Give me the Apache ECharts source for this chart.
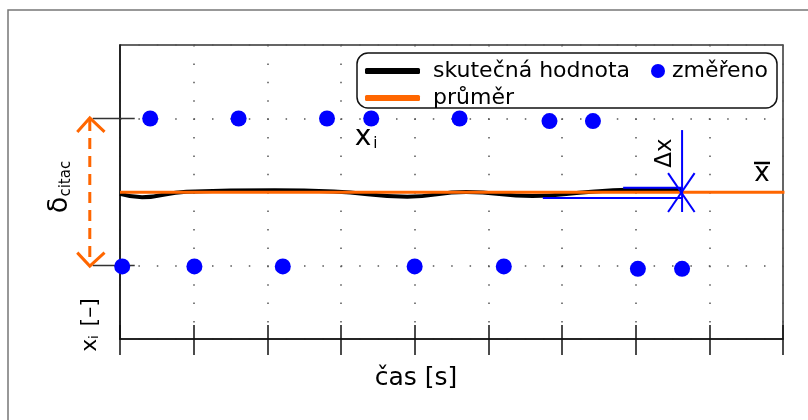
<!DOCTYPE html>
<html>
<head>
<meta charset="utf-8">
<script src="https://cdn.jsdelivr.net/npm/echarts@6/dist/echarts.min.js"></script>
<style>
	html, body { margin: 0; padding: 0; background: #fff; }
	#chart_1 { width: 808px; height: 420px; }
</style>
</head>
<body>
<div id="chart_1"></div>
<script>
// skutečná hodnota (true value)
var trueX = [0, 0.3, 0.9, 2.1, 2.9, 3.9, 4.7, 5.6, 6.4, 6.9, 7.63];
var trueY = [7.9, 7.72, 8.02, 8.1, 8.03, 7.74, 8.0, 7.78, 8.02, 8.12, 8.16];

// změřeno (measured points)
var measX = [0.41, 1.61, 2.81, 3.41, 4.61, 5.83, 6.42, 0.03, 1.01, 2.21, 4.0, 5.21, 7.03, 7.63];
var measY = [12, 12, 12, 12, 12, 11.86, 11.86, 3.95, 3.95, 3.95, 3.95, 3.95, 3.82, 3.82];

// průměr (mean)
var meanX = [0, 9.02];
var meanY = 7.98;

// Δx marker at the last sample
var deltaX = 7.63;
var deltaTop = 11.37, deltaBottom = 6.91;
var upperBarX = [6.83, 7.63], upperBarY = 8.23;
var lowerBarX = [5.74, 7.63], lowerBarY = 7.67;

// δ citac arrow (left of the y axis)
var arrowX = -0.41;
var arrowTop = 12.03, arrowBottom = 3.97;
var leaderX = [-0.37, 0.2];
var leaderY = [12, 4];

var legendLines = ['skutečná hodnota', 'průměr'];
var legendPoints = ['změřeno'];

echart_1();

function echart_1() {
	var font = 'DejaVu Sans';
	var myChart = echarts.init(document.getElementById('chart_1'));

	function pairs(xs, ys) {
		var res = [];
		for (var i = 0; i < xs.length; i++) {
			res.push([xs[i], ys[i]]);
		}
		return res;
	}

	// plain helper line (annotations inside the grid)
	function seg(data, color, width) {
		return {
			name: '',
			type: 'line',
			data: data,
			symbol: 'none',
			silent: true,
			clip: false,
			z: 6,
			lineStyle: { color: color, width: width }
		};
	}

	var dots = { type: [1.5, 16.9], color: '#555', width: 1.5 };
	var blue = '#0000ff', orange = '#ff6600';

	option = {
		backgroundColor: '#fff',
		animation: false,
		grid: {
			left: 120, top: 45, right: 25, bottom: 81,
			show: true, borderColor: '#333', borderWidth: 1.5
		},
		legend: [{
			left: 360, top: 55,
			orient: 'vertical',
			itemWidth: 55, itemHeight: 6, itemGap: 5,
			icon: 'roundRect',
			z: 60,
			data: legendLines,
			textStyle: { fontFamily: font, fontSize: 22, color: '#000', lineHeight: 22, padding: [0, 0, 0, 8] }
		}, {
			left: 646, top: 55,
			itemWidth: 14, itemHeight: 14,
			icon: 'circle',
			z: 60,
			data: legendPoints,
			textStyle: { fontFamily: font, fontSize: 22, color: '#000', lineHeight: 22, padding: [0, 0, 0, 2] }
		}],
		xAxis: [{
			type: 'value', min: 0, max: 9, interval: 1,
			axisLine: { lineStyle: { color: '#111', width: 1.5 } },
			axisTick: { inside: true, length: 14, lineStyle: { color: '#111', width: 1.5 } },
			axisLabel: { show: false },
			splitLine: { show: true, lineStyle: dots }
		}, {
			type: 'value', min: 0, max: 9, interval: 1, position: 'bottom',
			axisLine: { show: false },
			axisTick: { length: 16, lineStyle: { color: '#111', width: 1.5 } },
			axisLabel: { show: false },
			splitLine: { show: false }
		}],
		yAxis: {
			type: 'value', min: 0, max: 16, interval: 4,
			axisLine: { show: true, lineStyle: { color: '#111', width: 1.5 } },
			axisTick: { show: false },
			axisLabel: { show: false },
			splitLine: { show: true, lineStyle: dots }
		},
		series: [{
				name: 'skutečná hodnota',
				type: 'line',
				smooth: true,
				showSymbol: false,
				z: 3,
				itemStyle: { color: '#000' },
				lineStyle: { color: '#000', width: 4 },
				data: pairs(trueX, trueY)
			},
			{
				name: 'průměr',
				type: 'line',
				showSymbol: false,
				clip: false,
				z: 4,
				itemStyle: { color: orange },
				lineStyle: { color: orange, width: 3 },
				data: meanX.map(function(x) { return [x, meanY]; })
			},
			{
				name: 'změřeno',
				type: 'scatter',
				symbolSize: 16,
				z: 7,
				itemStyle: { color: blue, opacity: 1 },
				data: pairs(measX, measY)
			},
			// Δx
			seg([[deltaX, deltaTop], [deltaX, deltaBottom]], blue, 2),
			seg([[deltaX - 0.19, 9.03], [deltaX + 0.17, 6.91]], blue, 2),
			seg([[deltaX + 0.17, 9.03], [deltaX - 0.19, 6.91]], blue, 2),
			seg(upperBarX.map(function(x) { return [x, upperBarY]; }), blue, 2),
			seg(lowerBarX.map(function(x) { return [x, lowerBarY]; }), blue, 2)
		],
		graphic: [{
				id: 'frame',
				type: 'rect',
				z: 0,
				shape: { x: 8, y: 10, width: 830, height: 440 },
				style: { fill: 'none', stroke: '#777', lineWidth: 1.5 }
			},
			{
				// legend frame
				id: 'legendBox',
				type: 'rect',
				z: 50,
				shape: { x: 357, y: 53, width: 420, height: 55, r: 11 },
				style: { fill: '#fff', stroke: '#111', lineWidth: 1.5 }
			},
			{
				id: 'xName',
				type: 'text', z: 60, x: 416, y: 378,
				style: { text: 'čas [s]', font: '25px "DejaVu Sans"', fill: '#000', align: 'center', verticalAlign: 'middle' }
			},
			{
				id: 'yName',
				type: 'text', z: 60, x: 90, y: 325, rotation: Math.PI / 2,
				style: {
					text: '{a|x}{b|i}{a| [–]}', align: 'center', verticalAlign: 'middle', fill: '#000',
					rich: {
						a: { fontFamily: font, fontSize: 22, fill: '#000' },
						b: { fontFamily: font, fontSize: 12, fill: '#000', verticalAlign: 'bottom', padding: [0, 2, 0, 0] }
					}
				}
			},
			{
				id: 'deltaName',
				type: 'text', z: 60, x: 60, y: 187, rotation: Math.PI / 2,
				style: {
					text: '{a|δ}{b|citac}', align: 'center', verticalAlign: 'middle', fill: '#000',
					rich: {
						a: { fontFamily: font, fontSize: 27, fill: '#000' },
						b: { fontFamily: font, fontSize: 15, fill: '#000', verticalAlign: 'bottom' }
					}
				}
			},
			{
				id: 'xiName',
				type: 'text', z: 60, x: 366, y: 138,
				style: {
					text: '{a|x}{b|i}', align: 'center', verticalAlign: 'middle', fill: '#000',
					rich: {
						a: { fontFamily: font, fontSize: 28, fill: '#000' },
						b: { fontFamily: font, fontSize: 15, fill: '#000', verticalAlign: 'bottom', padding: [0, 0, 0, 2] }
					}
				}
			},
			{
				id: 'dxName',
				type: 'text', z: 60, x: 665, y: 153, rotation: Math.PI / 2,
				style: { text: 'Δx', font: '23px "DejaVu Sans"', fill: '#000', align: 'center', verticalAlign: 'middle' }
			},
			{
				id: 'meanName',
				type: 'text', z: 60, x: 762, y: 174,
				style: { text: 'x', font: '26px "DejaVu Sans"', fill: '#000', align: 'center', verticalAlign: 'middle' }
			},
			{
				id: 'meanBar',
				type: 'line', z: 60,
				shape: { x1: 754, y1: 163, x2: 770, y2: 163 },
				style: { stroke: '#000', lineWidth: 2.5 }
			}
		]
	};
	myChart.setOption(option);

	// δ citac arrow sits left of the axis, so place it through convertToPixel
	var p = function(x, y) {
		return myChart.convertToPixel({ gridIndex: 0 }, [x, y]);
	};
	var top = p(arrowX, arrowTop), bottom = p(arrowX, arrowBottom);
	var extra = [{
			id: 'arrowShaft',
			type: 'line', z: 40,
			shape: { x1: top[0], y1: top[1] + 2, x2: bottom[0], y2: bottom[1] - 2 },
			style: { stroke: orange, lineWidth: 3, lineDash: [11, 7] }
		},
		{
			id: 'arrowHeadTop',
			type: 'polyline', z: 40,
			shape: { points: [p(arrowX - 0.17, arrowTop - 0.76), top, p(arrowX + 0.2, arrowTop - 0.76)] },
			style: { stroke: orange, lineWidth: 3, fill: 'none' }
		},
		{
			id: 'arrowHeadBottom',
			type: 'polyline', z: 40,
			shape: { points: [p(arrowX - 0.17, arrowBottom + 0.73), bottom, p(arrowX + 0.2, arrowBottom + 0.73)] },
			style: { stroke: orange, lineWidth: 3, fill: 'none' }
		}
	];
	leaderY.forEach(function(y, i) {
		var a = p(leaderX[0], y), b = p(leaderX[1], y);
		extra.push({
			id: 'leader' + i,
			type: 'line', z: 1,
			shape: { x1: a[0], y1: a[1], x2: b[0], y2: b[1] },
			style: { stroke: '#333', lineWidth: 1.5 }
		});
	});
	myChart.setOption({ graphic: extra });
}
</script>
</body>
</html>
